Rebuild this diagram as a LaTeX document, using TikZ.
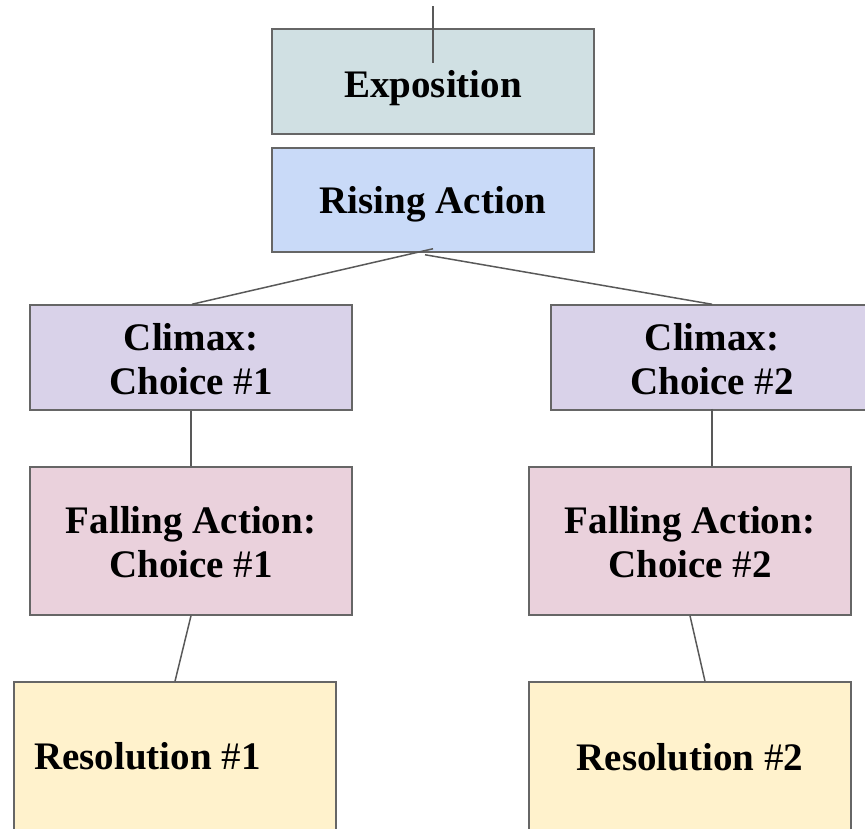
\documentclass[tikz,border=0pt]{standalone}
\usepackage{fontspec}
\setmainfont{Liberation Serif}
\definecolor{expo}{HTML}{D0E0E3}
\definecolor{rise}{HTML}{C9DAF8}
\definecolor{clim}{HTML}{D9D2E9}
\definecolor{fall}{HTML}{EAD1DC}
\definecolor{reso}{HTML}{FFF2CC}
\definecolor{edge}{HTML}{666666}
\definecolor{wire}{HTML}{595959}
\newcommand{\numsign}{{\mdseries\#}}
\begin{document}
\begin{tikzpicture}[x=1pt,y=-1pt,
  stage/.style={draw=edge, line width=1.5pt, rectangle, inner sep=0pt, minimum width=322pt},
  label/.style={font=\bfseries\fontsize{39}{44}\selectfont, align=center, inner sep=0pt},
  link/.style={draw=wire, line width=1.5pt}]
\useasboundingbox (0,0) rectangle (865,828);
\begin{scope}
\clip (0,0) rectangle (865,828);
\node[stage, fill=expo, minimum height=105pt] (expo) at (433,81.5) {};
\node[stage, fill=rise, minimum height=104pt] (rise) at (433,200) {};
\node[stage, fill=clim, minimum height=105pt] (c1) at (191,357.5) {};
\node[stage, fill=clim, minimum height=105pt] (c2) at (712,357.5) {};
\node[stage, fill=fall, minimum height=148pt] (f1) at (191,541) {};
\node[stage, fill=fall, minimum height=148pt] (f2) at (690,541) {};
\node[stage, fill=reso, minimum height=170pt] (r1) at (175,767) {};
\node[stage, fill=reso, minimum height=170pt] (r2) at (690,767) {};
\end{scope}

\node[label, anchor=base] (texpo) at (433,97) {Exposition};
\node[label, anchor=base] (trise) at (433,213) {Rising Action};
\node[label, anchor=base] (tc1a) at (191,350) {Climax:};
\node[label, anchor=base] (tc1b) at (191,394) {Choice \numsign1};
\node[label, anchor=base] (tc2a) at (712,350) {Climax:};
\node[label, anchor=base] (tc2b) at (712,394) {Choice \numsign2};
\node[label, anchor=base] (tf1a) at (191,533) {Falling Action:};
\node[label, anchor=base] (tf1b) at (191,577) {Choice \numsign1};
\node[label, anchor=base] (tf2a) at (690,533) {Falling Action:};
\node[label, anchor=base] (tf2b) at (690,577) {Choice \numsign2};
\node[label, anchor=base west] (tr1) at (34,769) {Resolution \numsign1};
\node[label, anchor=base] (tr2) at (690,770) {Resolution \numsign2};

\coordinate (top) at (433,6);
\coordinate (expoin) at (433,63);
\draw[link] (top) -- (expoin);
\draw[link] ([yshift=4pt]rise.south) -- ([xshift=1pt]c1.north);
\draw[link] ([xshift=-8pt,yshift=-2pt]rise.south) -- (c2.north);
\draw[link] (c1.south) -- (f1.north);
\draw[link] ([yshift=2pt]c2.south) -- ([xshift=22pt]f2.north);
\draw[link] (f1.south) -- (r1.north);
\draw[link] (f2.south) -- ([xshift=15pt]r2.north);
\end{tikzpicture}
\end{document}
